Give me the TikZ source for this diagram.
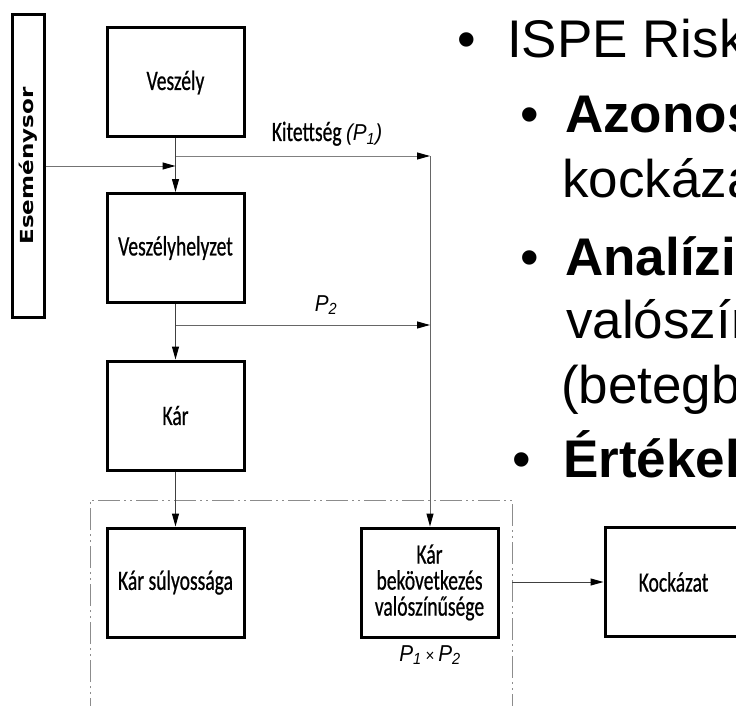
\documentclass[tikz,border=0pt]{standalone}
\usepackage{fontspec}
\setmainfont{Liberation Sans}
\newfontfamily\boxfont[FakeStretch=0.7,FakeBold=0.6]{Carlito}
\newfontfamily\sidefont[FakeStretch=1.28]{DejaVu Sans}
\newfontfamily\pfont[FakeStretch=0.9]{Liberation Sans}
\usetikzlibrary{arrows.meta}

\begin{document}
\begin{tikzpicture}[x=1pt, y=-1pt,
    box/.style={draw, line width=3pt, minimum width=137pt, minimum height=109pt,
        inner sep=0pt, align=center, font=\boxfont\fontsize{28}{26}\selectfont},
    conn/.style={draw=black!65, line width=1pt,
        -{Triangle[length=13pt,width=7pt,color=black]}},
    bulletmark/.style={anchor=base, inner sep=0pt, font=\fontsize{53}{60}\selectfont},
    slidetext/.style={anchor=base west, inner sep=0pt, font=\fontsize{53}{60}\selectfont},
    slidebold/.style={slidetext, font=\bfseries\fontsize{53}{60}\selectfont},
    plabel/.style={inner sep=0pt, font=\pfont\itshape\fontsize{23}{23}\selectfont},
]
    \useasboundingbox (0,0) rectangle (736,706);
    \clip (0,0) rectangle (736,706);
    \fill[white] (0,0) rectangle (736,706);

    % boxes of the chain
    \node[box] (veszely) at (175.5,82.5) {Veszély};
    \node[box] (helyzet) at (175.5,248) {Veszélyhelyzet};
    \node[box] (kar) at (175.5,415.5) {Kár};
    \node[box] (suly) at (175.5,582.5) {Kár súlyossága};
    \node[box] (bekov) at (429.5,582.5) {Kár\\bekövetkezés\\valószínűsége};
    \node[box] (kock) at (673.5,582) {Kockázat};
    \node[draw, line width=3pt, minimum width=32pt, minimum height=302pt, inner sep=0pt] (esem) at (28,166)
        {\rotatebox{90}{\sidefont\bfseries\fontsize{18}{18}\selectfont Eseménysor}};

    % frame round the result
    \draw[black!45, line width=1pt, dash pattern=on 22pt off 4pt on 2pt off 4pt on 2pt off 4pt]
        (90,720) -- (90,500) -- (512,500) -- (512,720);

    \coordinate (j1) at (176,156);
    \coordinate (j2) at (430,156);
    \coordinate (j3) at (176,325);
    \coordinate (j4) at (430,325);
    \coordinate (frameR) at (512,582);

    % connectors
    \draw[conn, draw=black!75] (veszely) -- (helyzet);
    \draw[conn, draw=black!55] (esem) -- (esem -| veszely);
    \draw[conn, draw=black!50] (j1) -- (j2);
    \draw[conn, draw=black!60] (j2) -- (j2 |- bekov.north);
    \draw[conn, draw=black!75] (helyzet) -- (kar);
    \draw[conn, draw=black!60] (j3) -- (j4);
    \draw[conn, draw=black!75] (kar) -- (suly);
    \draw[conn, draw=black!75] (frameR) -- (kock);

    % labels
    \node[inner sep=0pt, anchor=base, font=\boxfont\fontsize{28}{28}\selectfont] (kitlab) at (327,141)
        {Kitettség {\pfont\itshape\fontsize{23}{23}\selectfont (P\textsubscript{1})}};
    \node[plabel] (p2lab) at (326,305) {P\textsubscript{2}};
    \node[plabel] (prodlab) at (430,655) {P\textsubscript{1}\,{\upshape\fontsize{17}{17}\selectfont×}\,P\textsubscript{2}};

    % slide text
    \node[bulletmark] (b1) at (467,58) {•};
    \node[slidetext] (t1) at (507,58) {ISPE Risk};
    \node[bulletmark] (b2) at (530,133) {•};
    \node[slidebold] (t2) at (565,133) {Azonos};
    \node[slidetext] (t3) at (562,197) {kockáza};
    \node[bulletmark] (b3) at (530,275) {•};
    \node[slidebold] (t4) at (565,275) {Analízi};
    \node[slidetext] (t5) at (566,338) {valószín};
    \node[slidetext] (t6) at (561,403) {(betegb};
    \node[bulletmark] (b4) at (522,477) {•};
    \node[slidebold] (t7) at (563,477) {Értékel};
\end{tikzpicture}
\end{document}
